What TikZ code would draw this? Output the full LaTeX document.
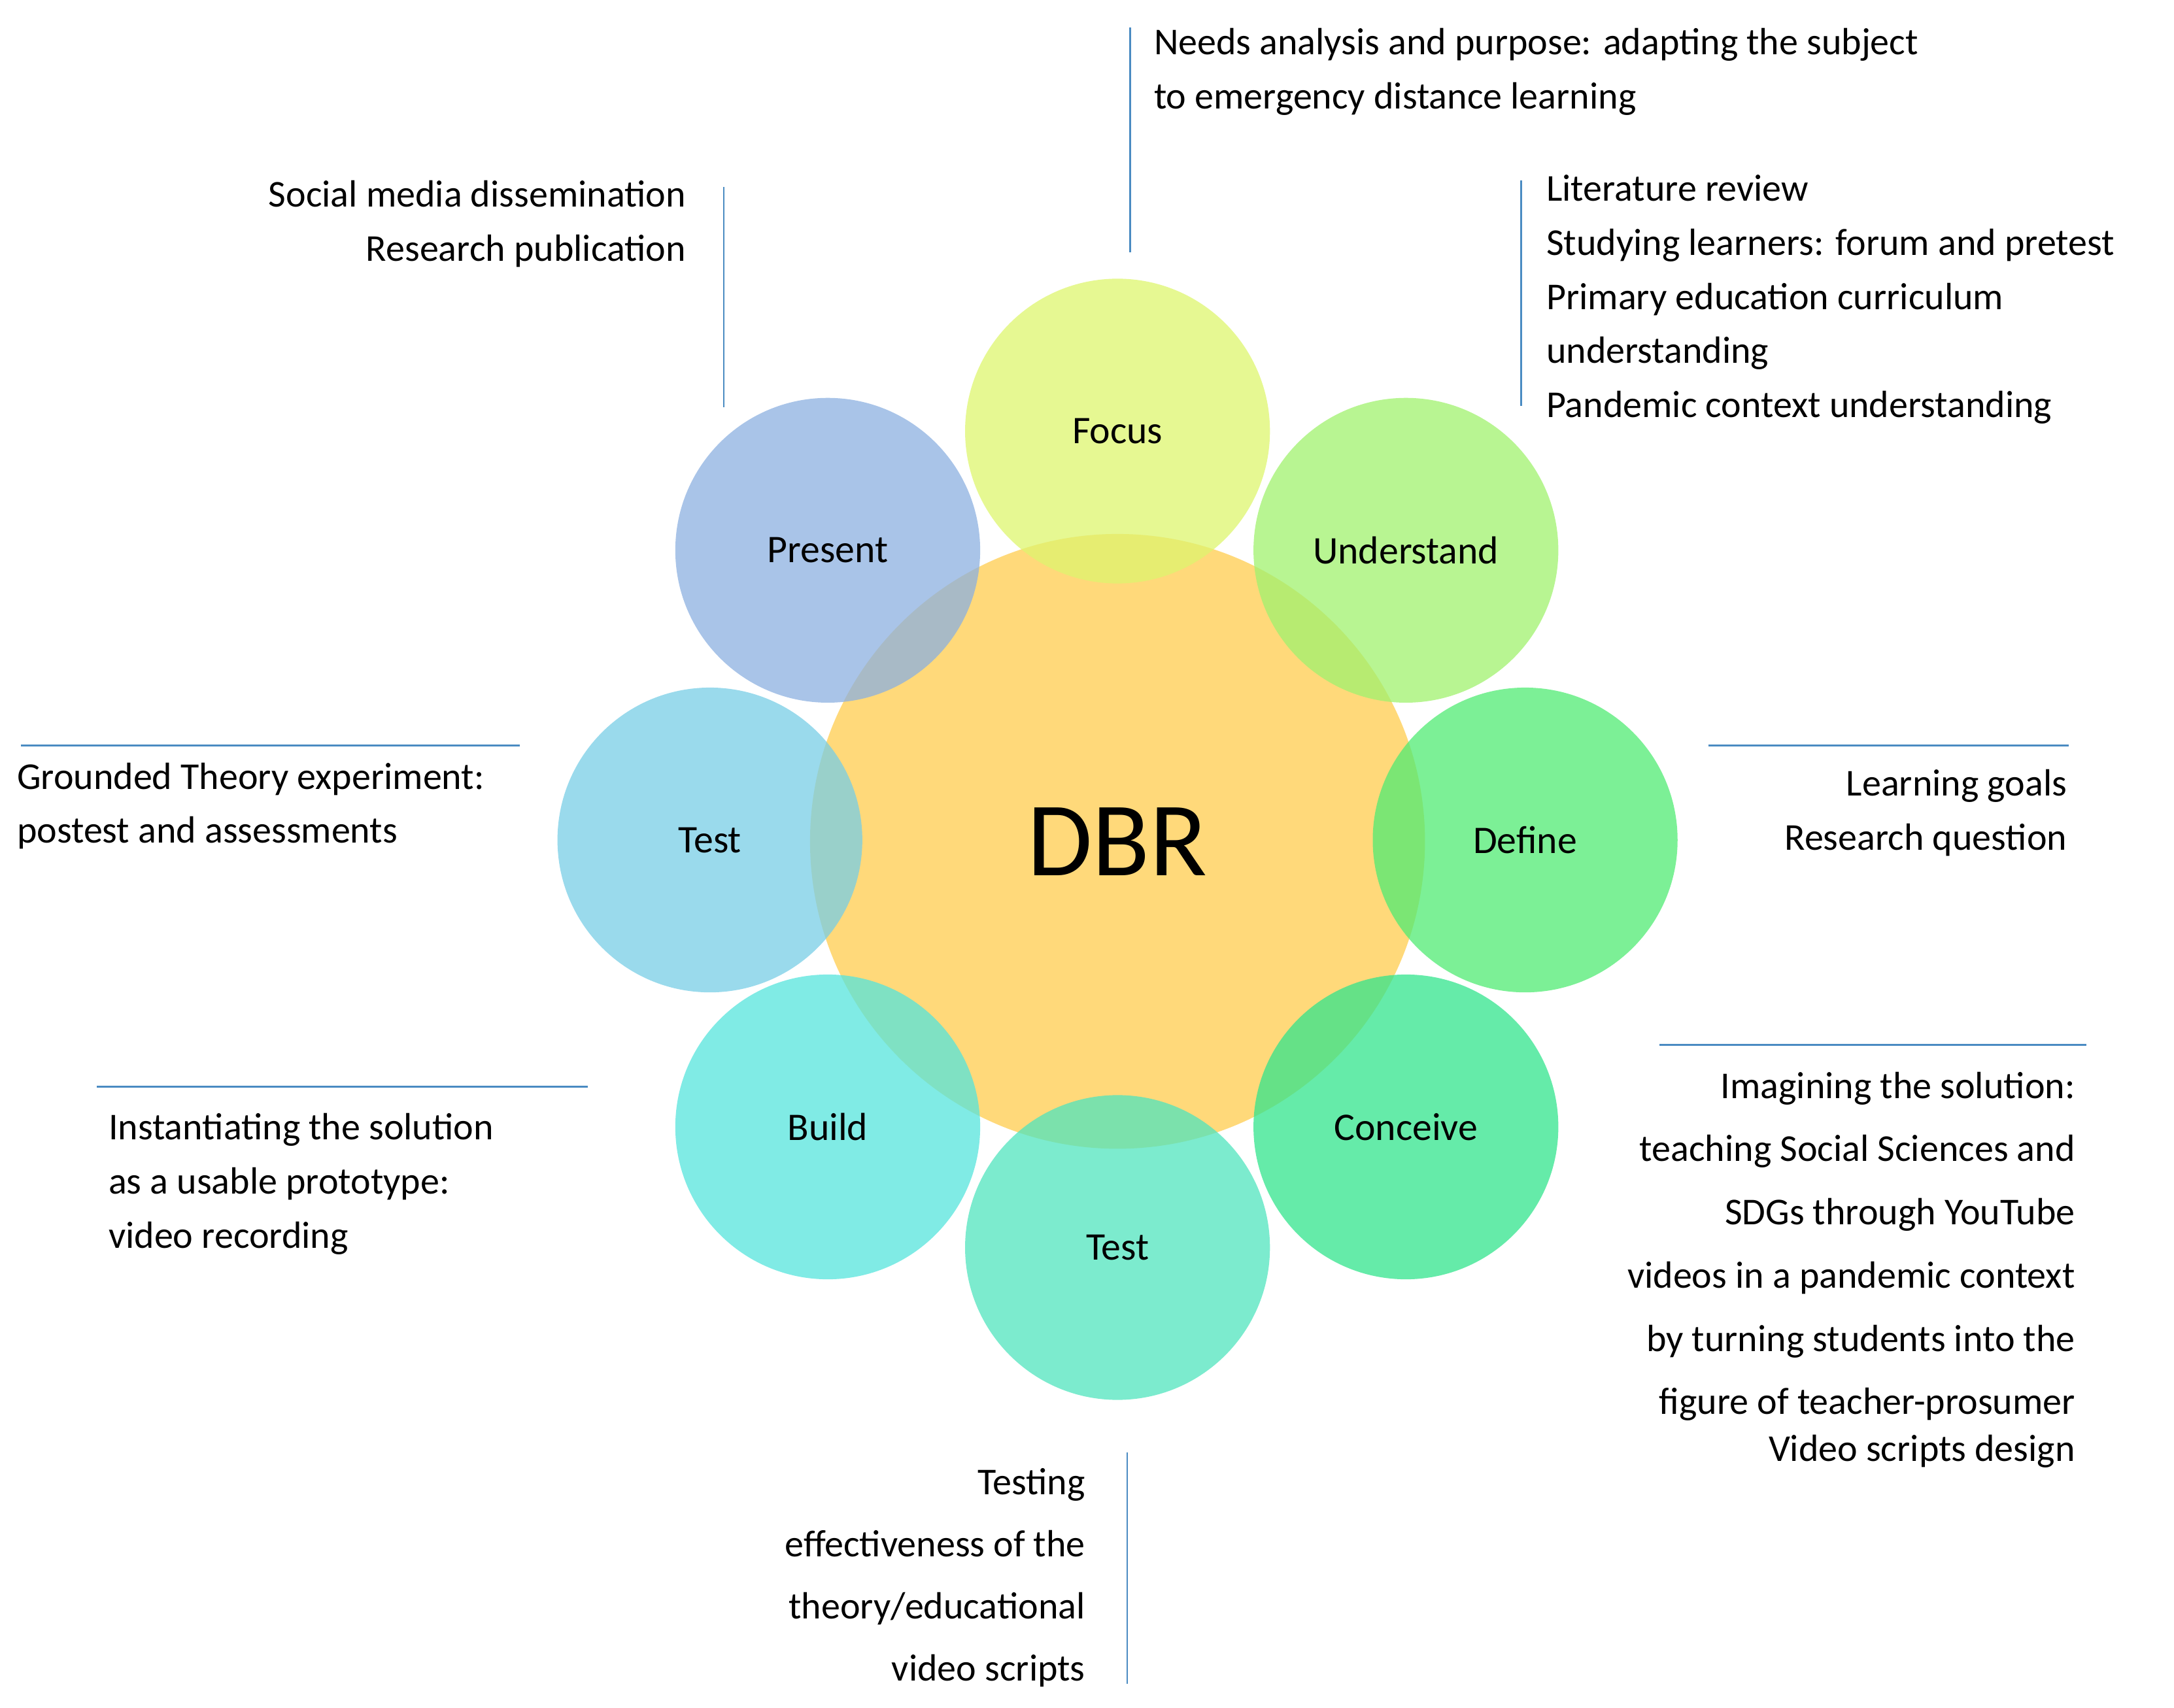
\documentclass[tikz,border=0pt]{standalone}
\usepackage{fontspec}
\setmainfont{Carlito}
\usetikzlibrary{positioning}
\definecolor{dbrcore}{RGB}{255,217,122}
\definecolor{cfocus}{RGB}{222,245,110}
\definecolor{cunder}{RGB}{160,242,110}
\definecolor{cdefine}{RGB}{80,235,115}
\definecolor{cconceive}{RGB}{50,228,140}
\definecolor{ctestb}{RGB}{80,228,190}
\definecolor{cbuild}{RGB}{85,228,220}
\definecolor{ctestl}{RGB}{120,205,230}
\definecolor{cpresent}{RGB}{140,176,224}
\definecolor{rule}{RGB}{74,139,194}

\begin{document}
\begin{tikzpicture}[x=0.0212cm, y=-0.0212cm,
    phase/.style={circle, minimum size=4.66cm, inner sep=0pt, fill opacity=0.75, text opacity=1, font=\fontsize{17}{20}\selectfont},
    note/.style={font=\fontsize{16.5}{23.5}\selectfont, inner sep=0pt},
    rl/.style={rule, line width=0.8pt}]
    \useasboundingbox (0,0) rectangle (1568,1232);
    % core
    \node[circle, fill=dbrcore, minimum size=9.4cm] (core) at (806,607) {};
    % phases
    \node[phase, fill=cfocus] (focus) at (806,311) {Focus};
    \node[phase, fill=cunder] (under) at (1014,397) {Understand};
    \node[phase, fill=cdefine] (define) at (1100,606) {Define};
    \node[phase, fill=cconceive] (conceive) at (1014,813) {Conceive};
    \node[phase, fill=ctestb] (testb) at (806,900) {Test};
    \node[phase, fill=cbuild] (build) at (597,813) {Build};
    \node[phase, fill=ctestl] (testl) at (512,606) {Test};
    \node[phase, fill=cpresent] (present) at (597,397) {Present};
    \node[font=\fontsize{46}{50}\selectfont] (dbr) at (806,607) {DBR};

    % notes
    \node[note, anchor=north west, align=left] (needs) at (832,20) {Needs analysis and purpose: adapting the subject\\to emergency distance learning};
    \node[note, anchor=north east, align=right] (social) at (495,130) {Social media dissemination\\Research publication};
    \node[note, anchor=north west, align=left] (lit) at (1115,126) {Literature review\\Studying learners: forum and pretest\\Primary education curriculum\\understanding\\Pandemic context understanding};
    \node[note, anchor=north west, align=left] (grounded) at (12,550) {Grounded Theory experiment:\\postest and assessments};
    \node[note, anchor=north east, align=right] (goals) at (1491,555) {Learning goals\\Research question};
    \node[note, anchor=north west, align=left] (inst) at (78,803) {Instantiating the solution\\as a usable prototype:\\video recording};
    \node[note, anchor=north east, align=right, font=\fontsize{16.5}{27.5}\selectfont] (imag) at (1497,773) {Imagining the solution:\\teaching Social Sciences and\\SDGs through YouTube\\videos in a pandemic context\\by turning students into the\\figure of teacher-prosumer};
    \node[note, anchor=north east] (scripts) at (1497,1035) {Video scripts design};
    \node[note, anchor=north east, align=right, font=\fontsize{16.5}{27}\selectfont] (testing) at (783,1059) {Testing\\effectiveness of the\\theory/educational\\video scripts};

    % rules
    \coordinate (a1) at (815,20);   \coordinate (a2) at (815,182);
    \coordinate (b1) at (522,135);  \coordinate (b2) at (522,294);
    \coordinate (c1) at (1097,130); \coordinate (c2) at (1097,293);
    \coordinate (d1) at (15,538);   \coordinate (d2) at (375,538);
    \coordinate (e1) at (1232,538); \coordinate (e2) at (1492,538);
    \coordinate (f1) at (70,784);   \coordinate (f2) at (424,784);
    \coordinate (g1) at (1197,754); \coordinate (g2) at (1505,754);
    \coordinate (h1) at (813,1048); \coordinate (h2) at (813,1215);
    \foreach \p in {a,b,c,d,e,f,g,h}
        \draw[rl] (\p1) -- (\p2);
\end{tikzpicture}
\end{document}
